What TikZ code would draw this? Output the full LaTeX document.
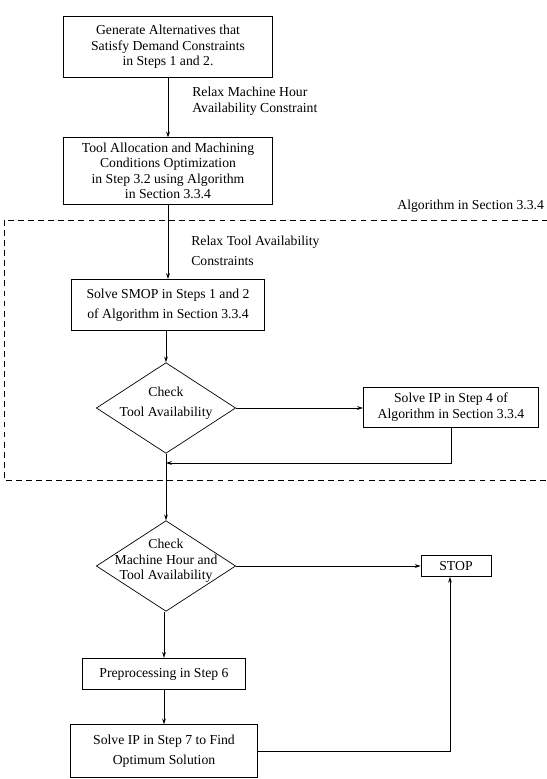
\documentclass[tikz,border=0pt]{standalone}
\usepackage{fontspec}
\setmainfont{Liberation Serif}
\usetikzlibrary{shapes.geometric}
\usetikzlibrary{positioning}
\usetikzlibrary{arrows.meta}
\tikzset{
    procbox/.style = {rectangle, draw=black, align=center, inner sep=2pt},
    decision/.style = {diamond, draw=black, inner sep=0pt, minimum width=4.18cm, minimum height=2.72cm},
    note/.style = {anchor=west, align=left, inner sep=0pt},
}

\begin{document}
\begin{tikzpicture}[
	x=0.03cm,
	y=-0.03cm,
	line width=0.6pt,
	font=\fontsize{11.7}{13.2}\selectfont
]
\tikzset{
    edgea/.style = {-{Stealth[length=5pt,width=3.2pt]}},
    edgen/.style = {-},
    edged/.style = {dash pattern=on 5pt off 3.6pt},
    intext/.style = {align=center, yshift=0.15cm},
}
\useasboundingbox (0,0) rectangle (546,779);
\node[procbox, minimum width=6.26cm, minimum height=1.84cm] at (168,47) (gen) {Generate Alternatives that\\Satisfy Demand Constraints\\in Steps 1 and 2.};
\node[procbox, minimum width=6.29cm, minimum height=1.99cm] at (168,171) (alloc) {Tool Allocation and Machining\\Conditions Optimization\\in Step 3.2 using Algorithm\\in Section 3.3.4};
\node[procbox, minimum width=5.77cm, minimum height=1.54cm] at (168,305) (smop) {Solve SMOP in Steps 1 and 2\\[3.8pt]of Algorithm in Section 3.3.4};
\node[decision, label={[intext]center:Check\\[3.8pt]Tool Availability}] at (166,408) (chk1) {};
\node[procbox, minimum width=5.26cm, minimum height=1.2cm] at (451,407) (ip4) {Solve IP in Step 4 of\\Algorithm in Section 3.3.4};
\node[decision, label={[intext]center:Check\\Machine Hour and\\Tool Availability}] at (166,566) (chk2) {};
\node[procbox, minimum width=2.1cm, minimum height=0.63cm] at (456,566) (stop) {STOP};
\node[procbox, minimum width=4.9cm, minimum height=0.95cm] at (164,674) (pre) {Preprocessing in Step 6};
\node[procbox, minimum width=5.6cm, minimum height=1.58cm] at (164,751) (ip7) {Solve IP in Step 7 to Find\\[3.8pt]Optimum Solution};
%
\node[note] at (192,101) (relax1) {Relax Machine Hour\\Availability Constraint};
\node[note] at (397,206) (alg) {Algorithm in Section 3.3.4};
\node[note] at (191,251) (relax2) {Relax Tool Availability\\[3.8pt]Constraints};
%
\draw[edged] (4,220) rectangle (560,480);
\coordinate (join) at (166,463);
\coordinate (up) at (450,600);
%
\draw[edgea] (gen) -- (alloc);
\draw[edgea] (alloc) -- (smop);
\draw[edgea] (smop.south -| chk1) -- (chk1);
\draw[edgea] (chk1) -- (ip4.west |- chk1);
\draw[edgea] (ip4.south) |- (join);
\draw[edgea] (chk1) -- (chk2);
%
\draw[edgea] (chk2) -- (stop);
\draw[edgea] (chk2.south -| pre) -- (pre);
\draw[edgea] (pre) -- (ip7);
\draw[edgea] (ip7.east) -| (up |- stop.south);
\end{tikzpicture}
\end{document}
